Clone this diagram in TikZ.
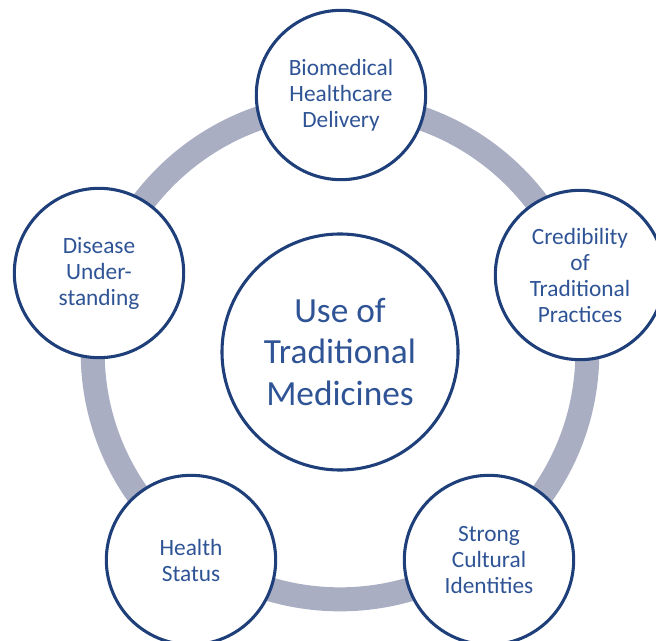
\documentclass[tikz,border=0pt]{standalone}
\usepackage{fontspec}
\setmainfont{Carlito}
\definecolor{ringgray}{HTML}{A9AEC3}
\definecolor{navy}{HTML}{1F3F7A}
\definecolor{textblue}{HTML}{2F5496}
\begin{document}
\begin{tikzpicture}[x=0.75pt,y=-0.75pt,
		ring/.style={draw=ringgray,line width=18pt},
		factor/.style={circle,draw=navy,line width=2.3pt,fill=white,minimum size=127pt,
			inner sep=0pt,align=center,text=textblue,font=\fontsize{17.5}{19.5}\selectfont},
		core/.style={factor,minimum size=177pt,font=\fontsize{26.5}{31}\selectfont}]
		\useasboundingbox (0,0) rectangle (656,641);
		\node[core] (use) at (340,352) {Use of\\Traditional\\Medicines};
		\draw[ring] (use.center) circle (185.5pt);
		\node[factor] (bio) at (341,95) {Biomedical\\Healthcare\\Delivery};
		\node[factor] (cred) at (580,275) {Credibility\\of\\Traditional\\Practices};
		\node[factor] (ident) at (489,560) {Strong\\Cultural\\Identities};
		\node[factor] (health) at (191,560) {Health\\Status};
		\node[factor] (disease) at (99,273) {Disease\\Under-\\standing};
	\end{tikzpicture}
\end{document}
